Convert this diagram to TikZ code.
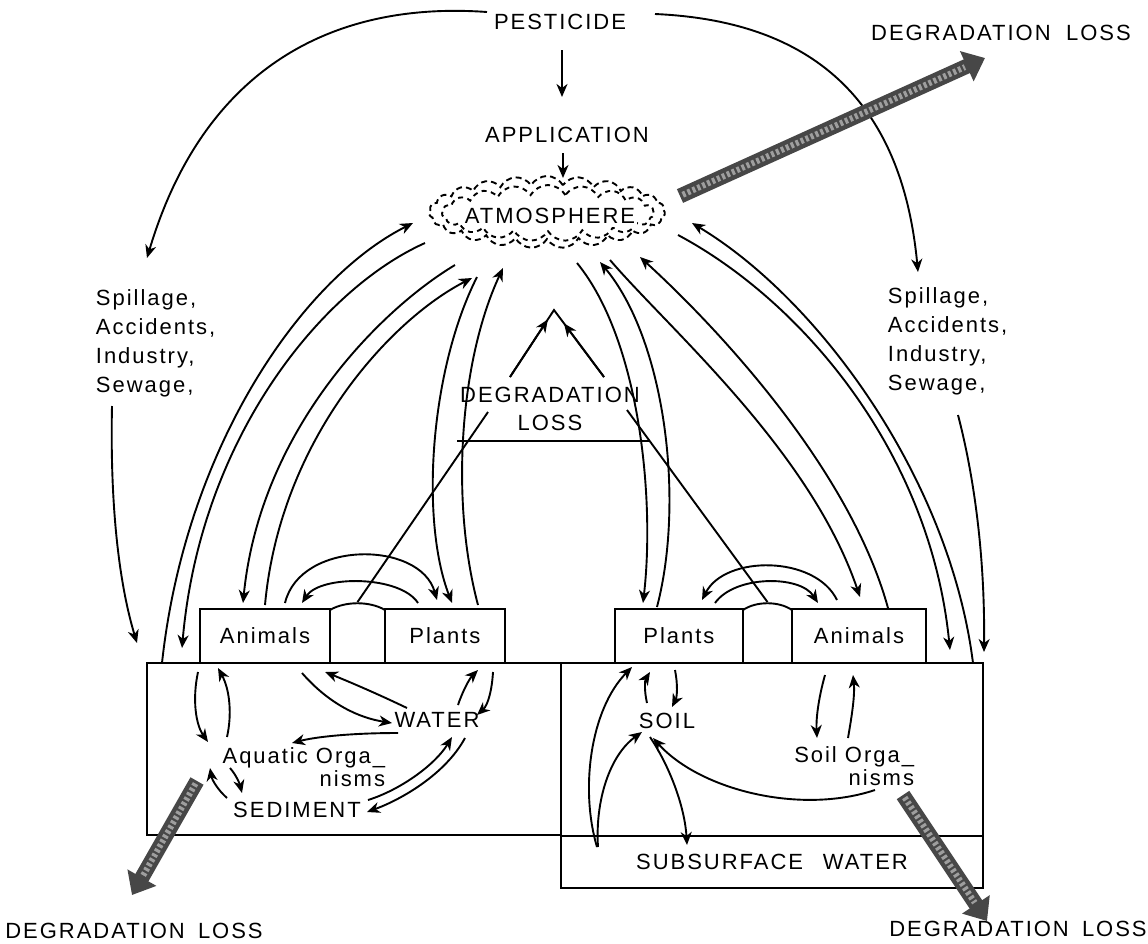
\documentclass[tikz,border=0pt]{standalone}
\usepackage{fontspec}
\setmainfont{Liberation Sans}[LetterSpace=9]
\usetikzlibrary{arrows.meta,shapes.symbols,fit,calc}
\begin{document}
\begin{tikzpicture}[x=0.5pt,y=-0.5pt,
  line width=0.95pt,
  arr/.style={-{Stealth[length=6.5pt,width=5.5pt,inset=2pt]}},
  txt/.style={font=\fontsize{11}{14.5}\selectfont, inner sep=0pt},
  box/.style={draw, inner sep=0pt},
  fat/.style={line width=7.5pt, draw=black!72, -{Triangle[length=10pt,width=16pt]}},
  fatin/.style={line width=3pt, draw=black!38, dash pattern=on 1.5pt off 1.2pt, shorten >=11pt, shorten <=1.5pt},
  puff/.style={cloud, draw, inner sep=0pt, cloud puff arc=120}
]
\useasboundingbox (0,0) rectangle (1148,944);

% ---------- top texts ----------
\node[txt] (pest) at (560,22) {PESTICIDE};
\node[txt] (appl) at (567,135) {APPLICATION};
\node[puff, cloud puffs=23, aspect=3.4, minimum width=118pt, minimum height=36pt, dash pattern=on 3pt off 2pt] (atm) at (547,212) {};
\node[puff, cloud puffs=19, aspect=3.9, minimum width=106pt, minimum height=28pt, dash pattern=on 2.5pt off 2.2pt] (atmin) at (548,213) {};
\node[txt, fill=white, inner xsep=1pt, inner ysep=1.5pt] (atmtxt) at (550,216) {ATMOSPHERE};
\node[txt] (dlTR) at (1001,33) {DEGRADATION\hspace{0.7em}LOSS};
\node[txt, align=left, anchor=west] (spL) at (95,343) {Spillage,\\Accidents,\\Industry,\\Sewage,};
\node[txt, align=left, anchor=west] (spR) at (887,341) {Spillage,\\Accidents,\\Industry,\\Sewage,};
\node[txt, align=center, font=\fontsize{11}{14}\selectfont] (dlM) at (550,409) {DEGRADATION\\LOSS};

% ---------- boxes ----------
\node[box, fit={(147,663) (561,835)}] (bigL) {};
\node[box, fit={(561,663) (983,888)}] (bigR) {};
\node[box, fit={(561,836) (983,888)}, label={[txt]center:SUBSURFACE\hspace{0.9em}WATER}] (subs) {};
\node[box, fit={(200,609) (330,663)}, label={[txt]center:Animals}] (animL) {};
\node[box, fit={(385,609) (505,663)}, label={[txt]center:Plants}] (plantL) {};
\node[box, fit={(615,609) (743,663)}, label={[txt]center:Plants}] (plantR) {};
\node[box, fit={(792,609) (926,663)}, label={[txt]center:Animals}] (animR) {};
\node[inner sep=0pt, fit={(330,603) (385,663)}] (midL) {};
\node[inner sep=0pt, fit={(743,603) (792,663)}] (midR) {};
\draw (330,663) -- (330,610) .. controls (345,601) and (370,601) .. (385,610) -- (385,663);
\draw (743,663) -- (743,610) .. controls (756,601) and (779,601) .. (792,610) -- (792,663);

% ---------- inner texts ----------
\node[txt] (water) at (437,720) {WATER};
\node[txt, align=right, anchor=east, font=\fontsize{11}{11.5}\selectfont] (aqua) at (386,767) {Aquatic Orga\_\\nisms};
\node[txt] (sed) at (297,810) {SEDIMENT};
\node[txt] (soil) at (667,721) {SOIL};
\node[txt, align=right, anchor=east, font=\fontsize{11}{11.5}\selectfont] (sorg) at (915,766) {Soil Orga\_\\nisms};
\node[txt] (dlBL) at (134,931) {DEGRADATION\hspace{0.6em}LOSS};
\node[txt] (dlBR) at (1018,929) {DEGRADATION\hspace{0.6em}LOSS};

% ---------- coordinates ----------
\coordinate (pa1) at (562,50);   \coordinate (pa2) at (562,97);
\coordinate (aa1) at (563,153);  \coordinate (aa2) at (563,178);
\coordinate (pL) at (487,12);    \coordinate (sLt) at (147,258);
\coordinate (pR) at (655,14);    \coordinate (sRt) at (918,272);
\coordinate (sLb) at (112,406);  \coordinate (bLs) at (137,643);
\coordinate (sRb) at (958,415);  \coordinate (bRs) at (984,652);
% atmosphere ports
\coordinate (aL1) at (413,223); \coordinate (aL2) at (425,243);
\coordinate (aL3) at (455,265); \coordinate (aL4) at (472,278);
\coordinate (aL5) at (477,277); \coordinate (aL6) at (503,268);
\coordinate (aR5) at (577,263); \coordinate (aR6) at (600,262);
\coordinate (aR3) at (610,260); \coordinate (aR4) at (640,257);
\coordinate (aR2) at (678,235); \coordinate (aR1) at (692,223);
\coordinate (aFat) at (680,196); \coordinate (fatTR) at (985,58);
% lower ports
\coordinate (bL1) at (162,663); \coordinate (bL2) at (182,648);
\coordinate (anL3) at (243,603); \coordinate (anL4) at (265,605);
\coordinate (plL5) at (452,603); \coordinate (plL6) at (478,605);
\coordinate (plR5) at (643,603); \coordinate (plR6) at (657,607);
\coordinate (anR3) at (860,597); \coordinate (anR4) at (888,608);
\coordinate (bR2) at (950,650); \coordinate (bR1) at (973,663);
% degradation
\coordinate (apex) at (554,310);
\coordinate (tl) at (510,377); \coordinate (tr) at (604,377);
\coordinate (dgL) at (488,412); \coordinate (dgR) at (627,410);
\coordinate (hL) at (457,441); \coordinate (hR) at (650,441);

% ---------- top connectors ----------
\draw[arr] (pa1) -- (pa2);
\draw[arr] (aa1) -- (aa2);
\draw[arr] (pL) .. controls (320,0) and (200,80) .. (sLt);
\draw[arr] (pR) .. controls (790,20) and (900,80) .. (sRt);
\draw[arr] (sLb) .. controls (110,500) and (118,580) .. (bLs);
\draw[arr] (sRb) .. controls (975,480) and (985,560) .. (bRs);

% ---------- atmosphere exchanges ----------
\draw[arr] (bL1) .. controls (185,450) and (300,280) .. (aL1);
\draw[arr] (aL2) .. controls (320,290) and (200,440) .. (bL2);
\draw[arr] (aL3) .. controls (380,310) and (260,430) .. (anL3);
\draw[arr] (anL4) .. controls (280,440) and (390,320) .. (aL4);
\draw[arr] (aL5) .. controls (430,370) and (420,520) .. (plL5);
\draw[arr] (plL6) .. controls (450,500) and (460,360) .. (aL6);
\draw[arr] (aR5) .. controls (640,340) and (655,500) .. (plR5);
\draw[arr] (plR6) .. controls (685,500) and (665,340) .. (aR6);
\draw[arr] (aR3) .. controls (670,330) and (810,450) .. (anR3);
\draw[arr] (anR4) .. controls (850,470) and (720,330) .. (aR4);
\draw[arr] (aR2) .. controls (800,300) and (930,450) .. (bR2);
\draw[arr] (bR1) .. controls (950,480) and (820,300) .. (aR1);

% ---------- degradation loss (middle) ----------
\draw (tl) -- (apex) -- (tr);
\draw[arr] (tl) -- ($(tl)!0.86!(apex)$);
\draw[arr] (tr) -- ($(tr)!0.80!(apex)$);
\draw (hL) -- (hR);
\draw (dgL) -- (midL.north);
\draw (dgR) -- (midR.north);

% ---------- animals <-> plants loops ----------
\draw[arr] (285,603) .. controls (300,540) and (420,540) .. (437,600);
\draw[arr] (418,603) .. controls (400,575) and (320,575) .. (302,603);
\draw[arr] (837,600) .. controls (815,555) and (725,555) .. (702,600);
\draw[arr] (715,603) .. controls (735,575) and (800,575) .. (818,603);

% ---------- water compartment ----------
\draw[arr] (198,672) .. controls (192,700) and (196,725) .. (208,742);
\draw[arr] (227,737) .. controls (232,715) and (230,690) .. (218,668);
\draw[arr] (302,673) .. controls (330,705) and (360,718) .. (392,723);
\draw[arr] (407,708) .. controls (380,695) and (350,682) .. (325,672);
\draw[arr] (458,705) .. controls (463,690) and (470,678) .. (478,670);
\draw[arr] (493,672) .. controls (492,690) and (488,705) .. (477,715);
\draw[arr] (398,733) .. controls (350,733) and (315,737) .. (292,743);
\draw[arr] (230,768) .. controls (237,776) and (240,785) .. (242,793);
\draw[arr] (227,798) .. controls (218,790) and (212,780) .. (210,768);
\draw[arr] (368,800) .. controls (400,790) and (435,765) .. (452,737);
\draw[arr] (465,738) .. controls (445,775) and (400,800) .. (367,812);

% ---------- soil compartment ----------
\draw[arr] (597,847) .. controls (580,790) and (590,710) .. (632,667);
\draw[arr] (598,847) .. controls (595,800) and (610,755) .. (642,732);
\draw[arr] (650,737) .. controls (672,770) and (685,810) .. (687,845);
\draw[arr] (875,790) .. controls (800,815) and (700,790) .. (653,738);
\draw[arr] (647,703) .. controls (644,690) and (645,680) .. (650,672);
\draw[arr] (675,670) .. controls (678,685) and (677,697) .. (672,707);
\draw[arr] (825,675) .. controls (818,700) and (816,720) .. (817,738);
\draw[arr] (848,738) .. controls (852,715) and (855,695) .. (853,675);

% ---------- degradation loss (shaded arrows) ----------
\coordinate (fBL1) at (197,781); \coordinate (fBL2) at (132,895);
\coordinate (fBR1) at (903,795); \coordinate (fBR2) at (987,921);
\draw[fat] (aFat) -- (fatTR);
\draw[fatin] (aFat) -- (fatTR);
\draw[fat] (fBL1) -- (fBL2);
\draw[fatin] (fBL1) -- (fBL2);
\draw[fat] (fBR1) -- (fBR2);
\draw[fatin] (fBR1) -- (fBR2);
\end{tikzpicture}
\end{document}
